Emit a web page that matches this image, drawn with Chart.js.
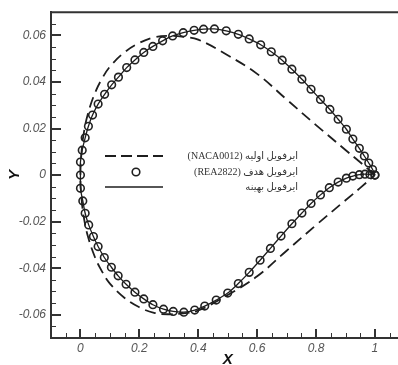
<!DOCTYPE html>
<html>
<head>
<meta charset="utf-8">
<script src="https://cdn.jsdelivr.net/npm/chart.js@4"></script>
<style>
  html, body { margin: 0; padding: 0; background: #fff; }
  #wrap { width: 398px; height: 365px; overflow: hidden; position: relative; }
  canvas { display: block; }
</style>
</head>
<body>
<div id="wrap"><canvas id="foil" width="410" height="370"></canvas></div>
<script>
// Target airfoil (REA2822) - circles (LE -> TE)
const targetUpperX = [0.000, 0.000, 0.006, 0.016, 0.027, 0.041, 0.060, 0.082, 0.106, 0.129, 0.157, 0.185, 0.215, 0.246, 0.279, 0.313, 0.349, 0.386, 0.418, 0.455, 0.495, 0.536, 0.573, 0.612, 0.648, 0.685, 0.718, 0.752, 0.783, 0.815, 0.847, 0.875, 0.903, 0.925, 0.947, 0.964, 0.979, 0.992, 1.000];
const targetUpperY = [0.0000, 0.0056, 0.0107, 0.0160, 0.0210, 0.0258, 0.0305, 0.0347, 0.0388, 0.0421, 0.0462, 0.0495, 0.0527, 0.0553, 0.0577, 0.0598, 0.0612, 0.0622, 0.0627, 0.0628, 0.0620, 0.0605, 0.0585, 0.0560, 0.0530, 0.0494, 0.0455, 0.0412, 0.0369, 0.0325, 0.0282, 0.0240, 0.0197, 0.0155, 0.0115, 0.0082, 0.0052, 0.0024, 0.0000];
const targetLowerX = [0.000, 0.008, 0.016, 0.028, 0.044, 0.060, 0.081, 0.105, 0.128, 0.155, 0.185, 0.215, 0.246, 0.282, 0.315, 0.351, 0.388, 0.422, 0.461, 0.500, 0.536, 0.573, 0.610, 0.645, 0.681, 0.718, 0.752, 0.783, 0.815, 0.845, 0.875, 0.903, 0.925, 0.947, 0.966, 0.983, 1.000];
const targetLowerY = [-0.0057, -0.0111, -0.0164, -0.0214, -0.0264, -0.0307, -0.0354, -0.0396, -0.0433, -0.0469, -0.0503, -0.0532, -0.0557, -0.0576, -0.0586, -0.0589, -0.0580, -0.0563, -0.0537, -0.0507, -0.0466, -0.0418, -0.0366, -0.0315, -0.0262, -0.0209, -0.0163, -0.0122, -0.0085, -0.0054, -0.0030, -0.0013, -0.0004, 0.0002, 0.0004, 0.0003, 0.0000];

// Initial airfoil (NACA0012) - dashed
const initialUpperX = [0, 0.005, 0.0125, 0.025, 0.05, 0.075, 0.1, 0.15, 0.2, 0.25, 0.3, 0.35, 0.4, 0.5, 0.6, 0.7, 0.8, 0.9, 0.95, 1.0];
const initialUpperY = [0, 0.0118, 0.0189, 0.0262, 0.0355, 0.0418, 0.0466, 0.0528, 0.0568, 0.0592, 0.0598, 0.0594, 0.0582, 0.0515, 0.0435, 0.0325, 0.0215, 0.0108, 0.0055, 0.0];
const initialLowerX = [0, 0.005, 0.0125, 0.025, 0.05, 0.075, 0.1, 0.15, 0.2, 0.25, 0.3, 0.35, 0.4, 0.5, 0.6, 0.7, 0.8, 0.9, 0.95, 1.0];
const initialLowerY = [0, -0.0118, -0.0189, -0.0262, -0.0355, -0.0418, -0.0466, -0.0528, -0.0568, -0.0592, -0.0598, -0.0594, -0.0582, -0.0515, -0.0435, -0.0325, -0.0215, -0.0108, -0.0055, 0.0];

// Ticks
const xTicks = [0, 0.2, 0.4, 0.6, 0.8, 1];
const xTickLabels = ['0', '0.2', '0.4', '0.6', '0.8', '1'];
const yTicks = [-0.06, -0.04, -0.02, 0, 0.02, 0.04, 0.06];
const yTickLabels = ['-0.06', '-0.04', '-0.02', '0', '0.02', '0.04', '0.06'];

const legendLabels = ['ایرفویل اولیه (NACA0012)', 'ایرفویل هدف (REA2822)', 'ایرفویل بهینه'];

const INK = '#1e1e1e';
const AXIS = '#333';

// closed contour: TE -> upper -> LE -> lower -> TE
function contour(ux, uy, lx, ly) {
  const pts = [];
  for (let i = ux.length - 1; i >= 0; i--) pts.push({ x: ux[i], y: uy[i] });
  for (let i = 0; i < lx.length; i++) {
    if (i === 0 && lx[0] === ux[0] && ly[0] === uy[0]) continue;
    pts.push({ x: lx[i], y: ly[i] });
  }
  return pts;
}

const targetPts = contour(targetUpperX, targetUpperY, targetLowerX, targetLowerY);
const initialPts = contour(initialUpperX, initialUpperY, initialLowerX, initialLowerY);

// inward ticks, top frame line and in-plot legend
const decor = {
  id: 'decor',
  afterDraw(chart) {
    const { ctx, chartArea: a, scales: { x, y } } = chart;
    ctx.save();
    ctx.strokeStyle = AXIS;

    // top frame
    ctx.lineWidth = 2;
    ctx.beginPath();
    ctx.moveTo(a.left - 1, a.top);
    ctx.lineTo(a.right, a.top);
    ctx.stroke();

    // minor ticks
    ctx.lineWidth = 1;
    ctx.beginPath();
    for (let v = -0.1; v <= 1.1001; v += 0.05) {
      const px = Math.round(x.getPixelForValue(v)) + 0.5;
      ctx.moveTo(px, a.bottom);
      ctx.lineTo(px, a.bottom - 5);
    }
    for (let v = -0.07; v <= 0.0701; v += 0.005) {
      const py = Math.round(y.getPixelForValue(v)) + 0.5;
      ctx.moveTo(a.left, py);
      ctx.lineTo(a.left + 5, py);
    }
    ctx.stroke();

    // major ticks
    ctx.lineWidth = 2;
    ctx.beginPath();
    xTicks.forEach(v => {
      const px = Math.round(x.getPixelForValue(v));
      ctx.moveTo(px, a.bottom);
      ctx.lineTo(px, a.bottom - 9);
    });
    yTicks.forEach(v => {
      const py = Math.round(y.getPixelForValue(v));
      ctx.moveTo(a.left, py);
      ctx.lineTo(a.left + 10, py);
    });
    ctx.stroke();

    // legend
    const rows = [156, 172, 187];
    ctx.strokeStyle = INK;
    ctx.lineWidth = 1.8;
    ctx.setLineDash([11, 5]);
    ctx.beginPath();
    ctx.moveTo(105, rows[0]);
    ctx.lineTo(163, rows[0]);
    ctx.stroke();
    ctx.setLineDash([]);
    ctx.lineWidth = 1.6;
    ctx.beginPath();
    ctx.arc(136, rows[1], 3.8, 0, Math.PI * 2);
    ctx.stroke();
    ctx.lineWidth = 1.5;
    ctx.beginPath();
    ctx.moveTo(105, rows[2]);
    ctx.lineTo(163, rows[2]);
    ctx.stroke();

    ctx.fillStyle = '#333';
    ctx.font = '10px "Liberation Serif", "DejaVu Sans", serif';
    ctx.direction = 'rtl';
    ctx.textAlign = 'right';
    ctx.textBaseline = 'middle';
    legendLabels.forEach((t, i) => ctx.fillText(t, 298, rows[i]));
    ctx.restore();
  }
};

const tickFont = { family: '"Liberation Sans", Arial, sans-serif', size: 12, style: 'italic' };
const titleFont = { family: '"Liberation Sans", Arial, sans-serif', size: 15, style: 'italic', weight: 'bold' };

new Chart(document.getElementById('foil'), {
  type: 'scatter',
  data: {
    datasets: [
      {
        label: legendLabels[0],
        data: initialPts,
        showLine: true,
        borderColor: INK,
        borderWidth: 1.8,
        borderDash: [11, 6],
        tension: 0.4,
        pointRadius: 0,
        fill: false
      },
      {
        label: legendLabels[2],
        data: targetPts, // optimized airfoil lies on the target
        showLine: true,
        borderColor: INK,
        borderWidth: 1.3,
        tension: 0.3,
        pointRadius: 0,
        fill: false
      },
      {
        label: legendLabels[1],
        data: targetPts,
        showLine: false,
        pointStyle: 'circle',
        pointRadius: 3.8,
        pointBorderWidth: 1.6,
        pointBorderColor: '#222',
        pointBackgroundColor: 'rgba(0,0,0,0)'
      }
    ]
  },
  options: {
    responsive: false,
    animation: false,
    devicePixelRatio: 1,
    layout: { padding: { top: 12, right: 1, left: 0, bottom: 0 } },
    plugins: { legend: { display: false }, tooltip: { enabled: false } },
    scales: {
      x: {
        type: 'linear',
        min: -0.1,
        max: 1.1,
        afterBuildTicks: s => { s.ticks = xTicks.map(v => ({ value: v })); },
        afterFit: s => { s.height = 32; },
        grid: { display: false, drawTicks: false },
        border: { display: true, color: AXIS, width: 2 },
        ticks: {
          font: tickFont,
          color: '#555',
          padding: 3,
          maxRotation: 0,
          callback: v => xTickLabels[xTicks.indexOf(v)]
        },
        title: { display: true, text: 'X', font: titleFont, color: '#111', padding: { top: 0, bottom: 1 } }
      },
      y: {
        type: 'linear',
        min: -0.07,
        max: 0.07,
        afterBuildTicks: s => { s.ticks = yTicks.map(v => ({ value: v })); },
        afterFit: s => { s.width = 51; },
        grid: { display: false, drawTicks: false },
        border: { display: true, color: AXIS, width: 2 },
        ticks: {
          font: tickFont,
          color: '#555',
          padding: 5,
          callback: v => yTickLabels[yTicks.indexOf(v)]
        },
        title: { display: true, text: 'Y', font: titleFont, color: '#111', padding: { top: 6, bottom: 0 } }
      }
    }
  },
  plugins: [decor]
});
</script>
</body>
</html>
